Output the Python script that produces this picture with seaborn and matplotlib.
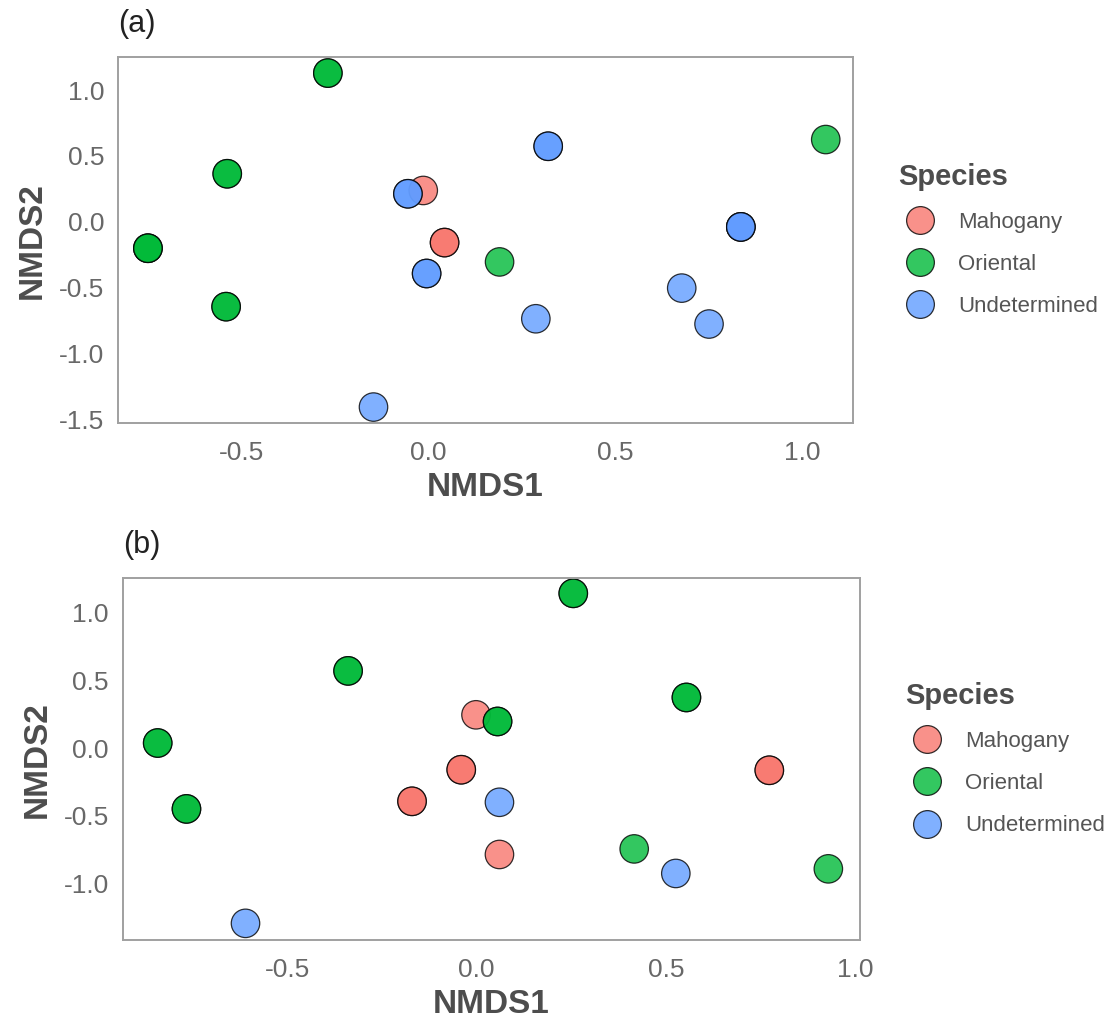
import numpy as np
import pandas as pd
import matplotlib
matplotlib.use("Agg")
import matplotlib.pyplot as plt
from matplotlib.lines import Line2D
import seaborn as sns

# ---------------------------------------------------------------------------
# Data (repeated rows = overlapping samples)
# ---------------------------------------------------------------------------
species_order = ["Mahogany", "Oriental", "Undetermined"]

a_nmds1 = [-0.014, 0.043, 0.043,
           -0.269, -0.269, -0.538, -0.538, -0.750, -0.750, -0.750,
           -0.541, -0.541, 0.190, 1.062,
           -0.055, -0.055, -0.005, -0.005, 0.320, 0.320, 0.835, 0.835, 0.835,
           0.287, -0.147, 0.677, 0.750]
a_nmds2 = [0.237, -0.159, -0.159,
           1.129, 1.129, 0.364, 0.364, -0.202, -0.202, -0.202,
           -0.646, -0.646, -0.306, 0.624,
           0.212, 0.212, -0.394, -0.394, 0.573, 0.573, -0.040, -0.040, -0.040,
           -0.738, -1.409, -0.505, -0.778]
a_species = (["Mahogany"] * 3 + ["Oriental"] * 11 + ["Undetermined"] * 13)

b_nmds1 = [-0.002, -0.041, -0.041, -0.171, -0.171, 0.060, 0.773, 0.773,
           -0.843, -0.843, -0.767, -0.767, -0.340, -0.340, 0.055, 0.055,
           0.255, 0.255, 0.554, 0.554, 0.416, 0.929,
           -0.611, 0.060, 0.526]
b_nmds2 = [0.245, -0.160, -0.160, -0.393, -0.393, -0.785, -0.164, -0.164,
           0.037, 0.037, -0.449, -0.449, 0.569, 0.569, 0.196, 0.196,
           1.141, 1.141, 0.373, 0.373, -0.744, -0.891,
           -1.293, -0.400, -0.925]
b_species = (["Mahogany"] * 8 + ["Oriental"] * 14 + ["Undetermined"] * 3)

palette = {"Mahogany": "#F8766D", "Oriental": "#00BA38", "Undetermined": "#619CFF"}

df_a = pd.DataFrame({"NMDS1": a_nmds1, "NMDS2": a_nmds2, "Species": a_species})
df_b = pd.DataFrame({"NMDS1": b_nmds1, "NMDS2": b_nmds2, "Species": b_species})

sns.set_style("white")
plt.rcParams["font.family"] = ["Liberation Sans", "DejaVu Sans"]

fig = plt.figure(figsize=(11.07, 10.19), dpi=100)
ax_a = fig.add_axes([0.1066, 0.5849, 0.664, 0.359])
ax_b = fig.add_axes([0.111, 0.0775, 0.666, 0.355])


def nmds_panel(ax, df, label, xlim, ylim, yticks):
    # one scatter per panel, coloured by species
    sns.scatterplot(data=df, x="NMDS1", y="NMDS2", hue="Species",
                    hue_order=species_order, palette=palette, s=420,
                    alpha=0.8, edgecolor="black", linewidth=0.9,
                    legend=False, ax=ax)
    ax.set_xlim(xlim)
    ax.set_ylim(ylim)
    ax.set_xticks([-0.5, 0.0, 0.5, 1.0])
    ax.set_yticks(yticks)
    ax.xaxis.set_major_formatter(matplotlib.ticker.FormatStrFormatter("%.1f"))
    ax.yaxis.set_major_formatter(matplotlib.ticker.FormatStrFormatter("%.1f"))
    ax.tick_params(length=0, labelsize=19, labelcolor="#686868")
    ax.tick_params(axis="x", pad=13)
    ax.tick_params(axis="y", pad=10)
    for sp in ax.spines.values():
        sp.set_color("#a0a0a0")
        sp.set_linewidth(1.4)
    ax.set_xlabel("NMDS1", fontsize=24, fontweight="bold", color="#4d4d4d", labelpad=5)
    ax.set_ylabel("NMDS2", fontsize=24, fontweight="bold", color="#4d4d4d", labelpad=8)
    ax.set_title(label, loc="left", fontsize=22, color="#222222", pad=18)

    # legend on the right, ggplot-like
    handles = [Line2D([0], [0], marker="o", linestyle="", markersize=20,
                      markerfacecolor=palette[sp], markeredgecolor="black",
                      markeredgewidth=0.9, alpha=0.8) for sp in species_order]
    leg = ax.legend(handles, species_order, title="Species", frameon=False,
                    loc="center left", bbox_to_anchor=(1.049, 0.5),
                    fontsize=16, title_fontsize=21, labelspacing=0.95,
                    handletextpad=0.7, borderaxespad=0)
    leg.get_title().set_fontweight("bold")
    leg.get_title().set_color("#4d4d4d")
    leg._legend_box.align = "left"
    for t in leg.get_texts():
        t.set_color("#555555")


nmds_panel(ax_a, df_a, "(a)", (-0.83, 1.135), (-1.53, 1.25),
           [1.0, 0.5, 0.0, -0.5, -1.0, -1.5])
nmds_panel(ax_b, df_b, "(b)", (-0.935, 1.013), (-1.416, 1.252),
           [1.0, 0.5, 0.0, -0.5, -1.0])

fig.savefig("out.png", dpi=100, facecolor="white")
